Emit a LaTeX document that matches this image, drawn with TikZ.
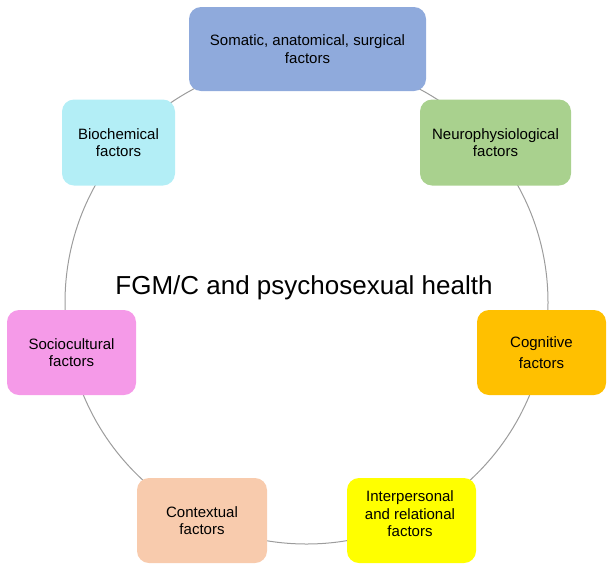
\documentclass[tikz,border=0pt]{standalone}
\usepackage{fontspec}
\setmainfont{Liberation Sans}
\definecolor{cSom}{HTML}{8FAADC}
\definecolor{cBio}{HTML}{B3EEF6}
\definecolor{cNeu}{HTML}{A9D18E}
\definecolor{cSoc}{HTML}{F59AE8}
\definecolor{cCog}{HTML}{FFC000}
\definecolor{cCon}{HTML}{F8CBAD}
\definecolor{cInt}{HTML}{FFFF00}
\definecolor{ring}{HTML}{9C9C9C}
\begin{document}
\begin{tikzpicture}[x=1pt,y=-1pt,
  factor/.style={draw=none, rounded corners=12pt, align=center, inner sep=0pt,
    font=\fontsize{15}{17.5}\selectfont, text=black},
  ringline/.style={draw=ring, line width=1pt}]
\useasboundingbox (0,0) rectangle (613,571);
\coordinate (c) at (306.5,302.5);
\draw[ringline] (c) circle[radius=241.5pt];
\node[factor, fill=cSom, minimum width=237pt, minimum height=84pt] (som) at (307.5,49) {Somatic, anatomical, surgical\\factors};
\node[factor, fill=cBio, minimum width=113pt, minimum height=86pt] (bio) at (118.5,142.5) {Biochemical\\factors};
\node[factor, fill=cNeu, minimum width=151pt, minimum height=86pt] (neu) at (495.5,142.5) {Neurophysiological\\factors};
\node[factor, fill=cSoc, minimum width=129pt, minimum height=85pt] (soc) at (71.5,352.5) {Sociocultural\\factors};
\node[factor, fill=cCog, minimum width=129pt, minimum height=85pt] (cog) at (541.5,352.5) {Cognitive\\[4pt]factors};
\node[factor, fill=cCon, minimum width=130pt, minimum height=85pt] (con) at (202,520.5) {Contextual\\factors};
\node[factor, fill=cInt, minimum width=129pt, minimum height=85pt] (int) at (411.5,520.5) {};
\node[font=\fontsize{15}{17.5}\selectfont, align=center, inner sep=0pt] (intt) at (410,514) {Interpersonal\\and relational\\factors};
\node[font=\fontsize{26}{30}\selectfont, inner sep=0pt] (title) at (304,288) {FGM/C and psychosexual health};
\end{tikzpicture}
\end{document}
